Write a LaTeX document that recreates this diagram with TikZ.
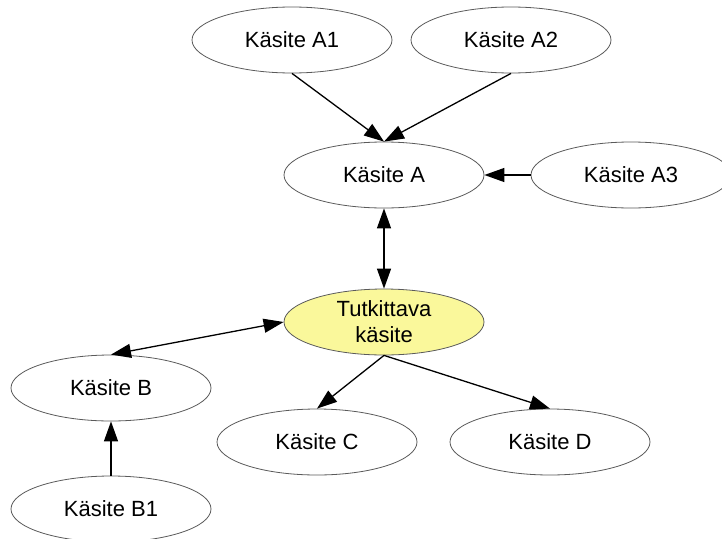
\documentclass[tikz,border=0pt]{standalone}
\usepackage{fontspec}
\setmainfont{Liberation Sans}
\usetikzlibrary{shapes.geometric,arrows.meta}
\definecolor{conceptfill}{RGB}{250,248,155}
\definecolor{rimgray}{RGB}{90,90,90}
\begin{document}
\begin{tikzpicture}[x=1pt,y=-1pt,
  concept/.style={ellipse,draw=rimgray,line width=0.8pt,fill=white,
    minimum width=200pt,minimum height=66pt,inner sep=0pt,
    font=\fontsize{22}{26}\selectfont,align=center},
  focus/.style={concept,fill=conceptfill},
  link/.style={line width=1.3pt,-{Triangle[length=20pt,width=14pt]}},
  twoway/.style={line width=1.3pt,{Triangle[length=20pt,width=14pt]}-{Triangle[length=20pt,width=14pt]}}]
  \useasboundingbox (0,0) rectangle (722,538);
  \clip (0,0) rectangle (722,538);
  % concepts
  \node[concept] (a1) at (292,40) {Käsite A1};
  \node[concept] (a2) at (511,40) {Käsite A2};
  \node[concept] (a)  at (384,175) {Käsite A};
  \node[concept] (a3) at (631,175) {Käsite A3};
  \node[focus]   (t)  at (384,322) {Tutkittava\\käsite};
  \node[concept] (b)  at (111,388) {Käsite B};
  \node[concept] (c)  at (317,442) {Käsite C};
  \node[concept] (d)  at (550,442) {Käsite D};
  \node[concept] (b1) at (111,509) {Käsite B1};
  % relations
  \draw[link] (a1.south) -- (a.north);
  \draw[link] (a2.south) -- (a.north);
  \draw[link] (a3.west) -- (a.east);
  \draw[twoway] (a.south) -- (t.north);
  \draw[twoway] (b.north) -- (t.west);
  \draw[link] (t.south) -- (c.north);
  \draw[link] (t.south) -- (d.north);
  \draw[link] (b1.north) -- (b.south);
\end{tikzpicture}
\end{document}
